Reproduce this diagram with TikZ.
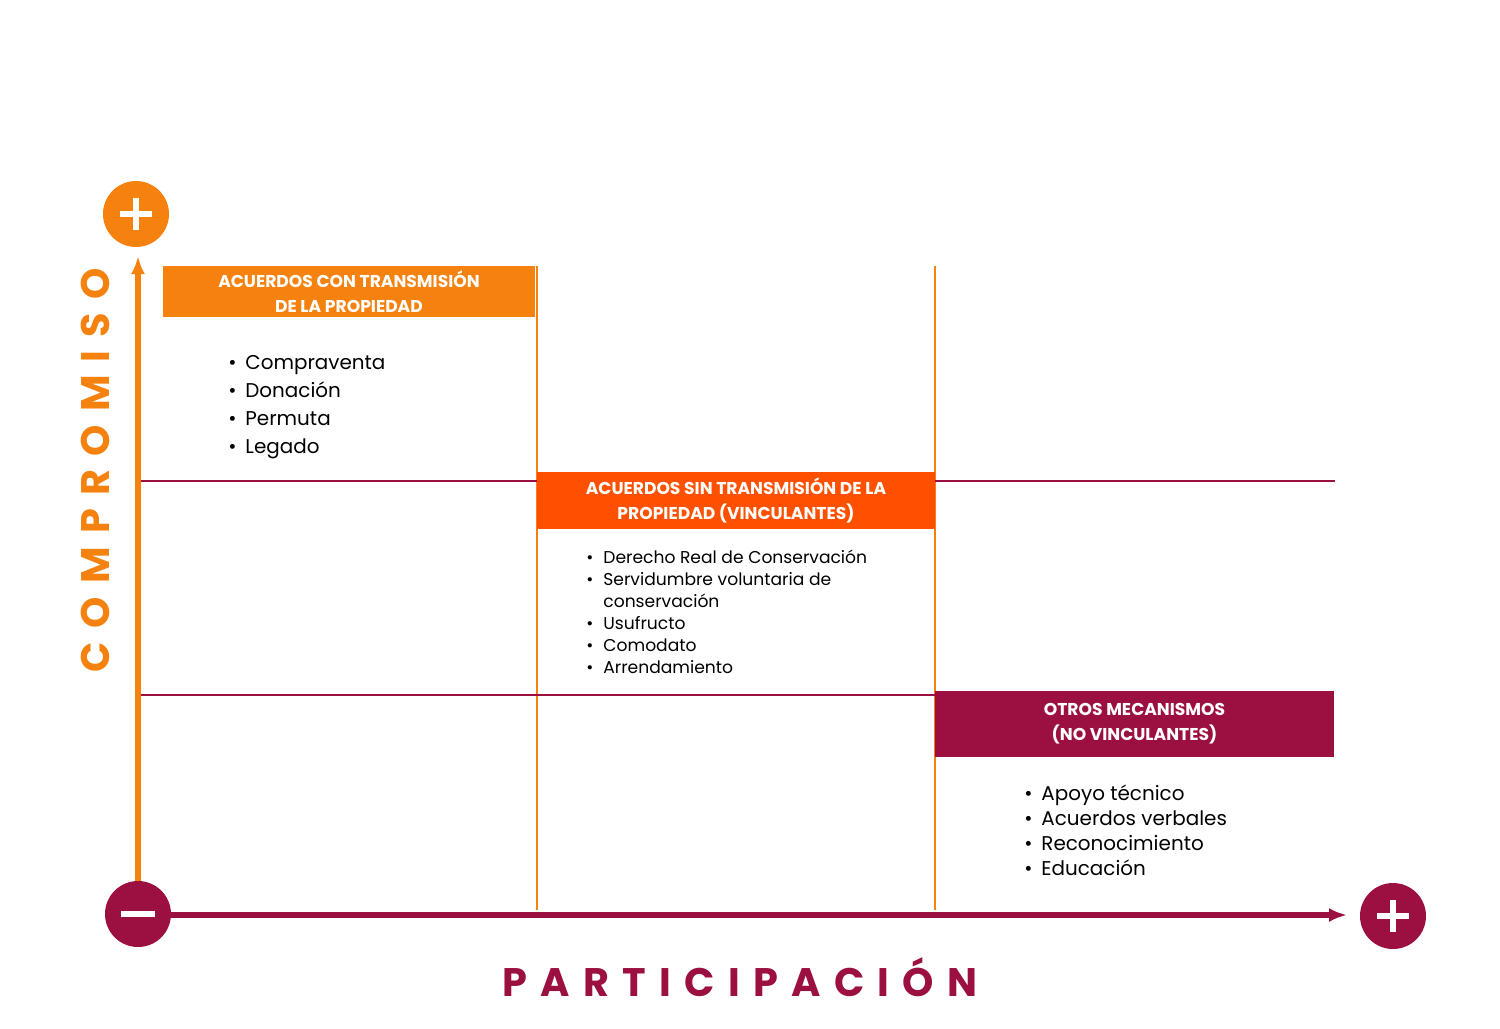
\documentclass[tikz,border=0pt]{standalone}
\usepackage{fontspec}
\setmainfont{Poppins}
\usetikzlibrary{arrows.meta}
\definecolor{naranja}{HTML}{F5820F}
\definecolor{rojizo}{HTML}{FF5000}
\definecolor{vino}{HTML}{9B1040}
\tikzset{
  caja/.style={fill=#1,text=white,font=\fontsize{8.6}{12.5}\selectfont\bfseries,align=center,inner sep=0pt},
  lista/.style={anchor=north west,align=left,font=\fontsize{10}{14}\selectfont,inner sep=0pt},
  signo/.style={circle,fill=#1,minimum size=33bp,inner sep=0pt},
}
\newcommand{\itm}[1]{\makebox[8.5bp][l]{\textbullet}#1}
\begin{document}
\begin{tikzpicture}[x=0.5bp,y=-0.5bp,>=latex]
\useasboundingbox (0,0) rectangle (1500,1028);
%% rejilla
\draw[naranja,line width=0.6bp] (537,266) -- (537,910) (935,266) -- (935,910);
\draw[vino,line width=0.6bp] (140,481) -- (1335,481) (140,695) -- (935,695);
%% ejes
\coordinate (v0) at (138,885);
\coordinate (v1) at (138,256);
\coordinate (h0) at (170,915);
\coordinate (h1) at (1347,915);
\draw[naranja,line width=3bp,-{Latex[length=9bp,width=7bp]}] (v0) -- (v1);
\draw[vino,line width=3bp,-{Latex[length=9bp,width=7bp]}] (h0) -- (h1);
\node[signo=naranja] (masv) at (136,214) {};
\node[signo=vino] (menos) at (138,914) {};
\node[signo=vino] (mash) at (1393,916) {};
\draw[white,line width=3bp] (120,214) -- (152,214) (136,198) -- (136,230);
\draw[white,line width=3bp] (121,914) -- (155,914);
\draw[white,line width=3bp] (1377,916) -- (1409,916) (1393,900) -- (1393,932);
\node[rotate=90,text=naranja,font=\fontsize{20}{20}\selectfont\bfseries] (comp) at (95,470) {C\,\,O\,\,M\,\,P\,\,R\,\,O\,\,M\,\,I\,\,S\,\,O};
\node[text=vino,font=\fontsize{20}{20}\selectfont\bfseries] (part) at (740,977) {P\,\,A\,\,R\,\,T\,\,I\,\,C\,\,I\,\,P\,\,A\,\,C\,\,I\,\,Ó\,\,N};
%% cajas
\node[caja=naranja,minimum width=186bp,minimum height=25.5bp] (caja1) at (349,291.5) {ACUERDOS CON TRANSMISIÓN\\DE LA PROPIEDAD};
\node[caja=rojizo,minimum width=199bp,minimum height=28.5bp] (caja2) at (736,500.5) {ACUERDOS SIN TRANSMISIÓN DE LA\\PROPIEDAD (VINCULANTES)};
\node[caja=vino,minimum width=199.5bp,minimum height=33bp] (caja3) at (1134.5,724) {OTROS MECANISMOS\\(NO VINCULANTES)};
%% listas
\node[lista] (lista1) at (228,355) {\itm{Compraventa}\\\itm{Donación}\\\itm{Permuta}\\\itm{Legado}};
\node[lista,font=\fontsize{8.6}{11}\selectfont] (lista2) at (586,550) {\itm{Derecho Real de Conservación}\\\itm{Servidumbre voluntaria de}\\\hspace*{8.5bp}conservación\\\itm{Usufructo}\\\itm{Comodato}\\\itm{Arrendamiento}};
\node[lista,font=\fontsize{10}{12.5}\selectfont] (lista3) at (1024,785) {\itm{Apoyo técnico}\\\itm{Acuerdos verbales}\\\itm{Reconocimiento}\\\itm{Educación}};
\end{tikzpicture}
\end{document}
